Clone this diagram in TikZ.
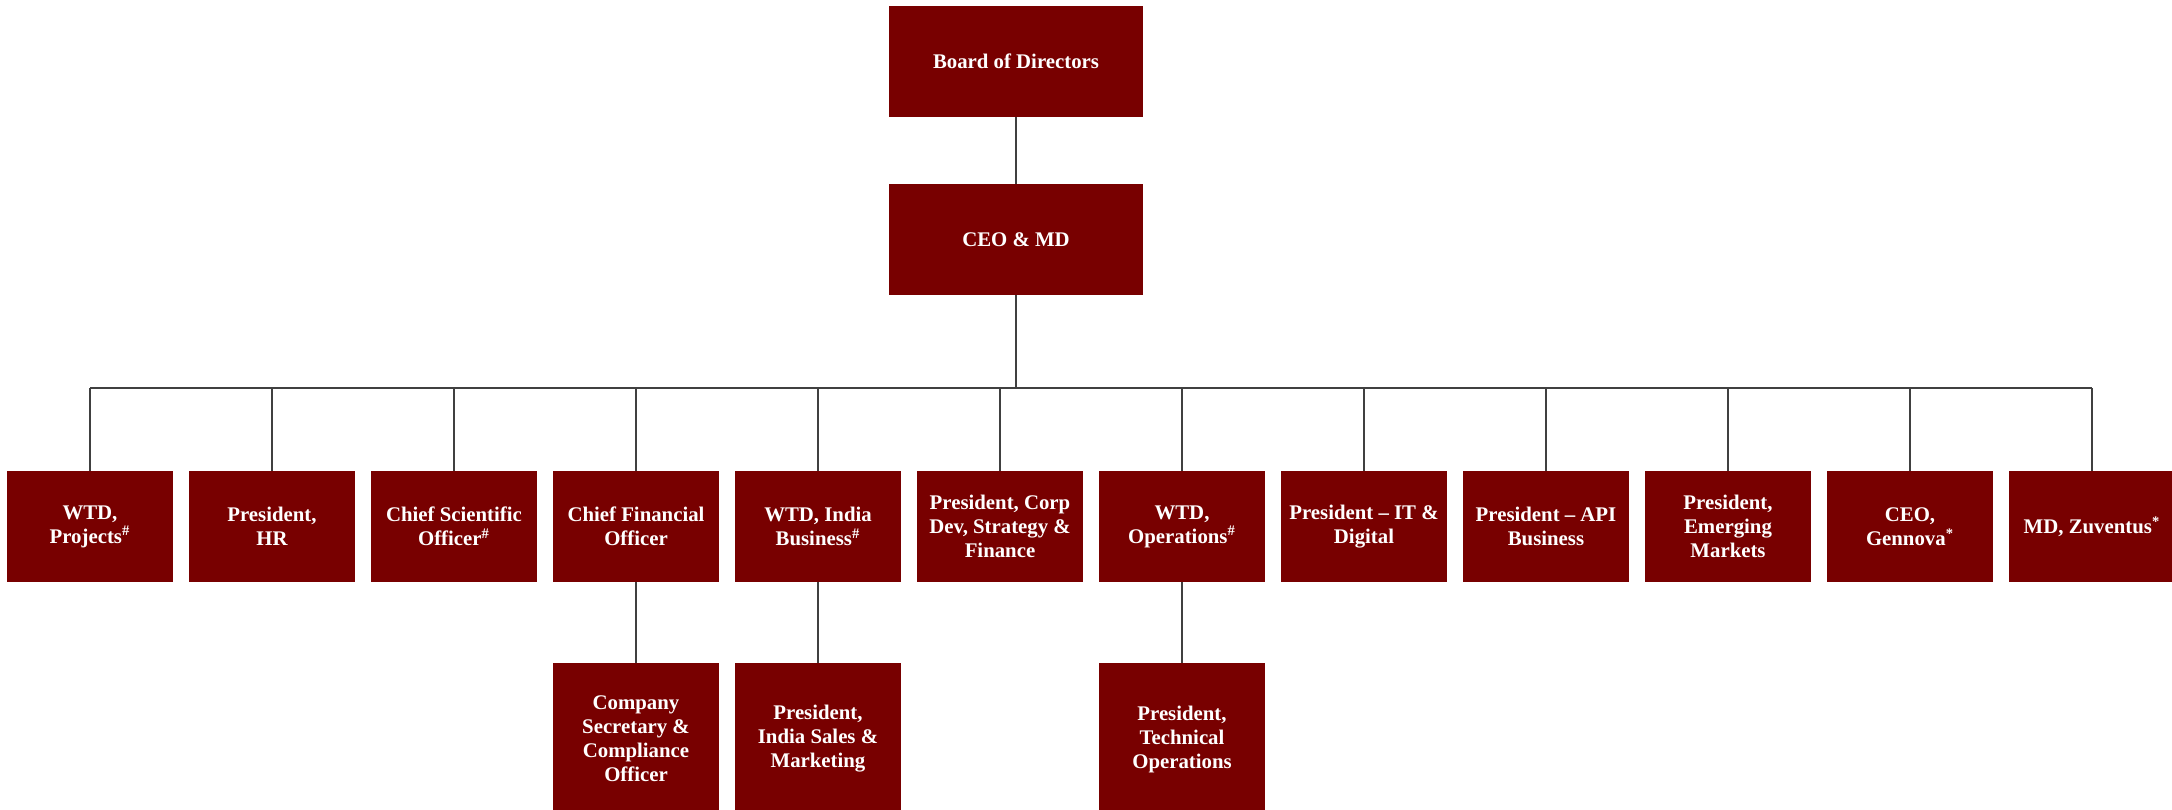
\documentclass[tikz,border=0pt]{standalone}
\usepackage{fontspec}
\setmainfont{Liberation Serif}
\definecolor{boxred}{RGB}{120,0,0}
\definecolor{linegray}{RGB}{64,64,64}
\tikzset{
  orgbox/.style={fill=boxred, text=white, font=\bfseries\fontsize{10.4}{12}\selectfont,
    align=center, inner sep=0pt, minimum width=83pt, minimum height=55.5pt},
  topbox/.style={orgbox, minimum width=127pt},
  lowbox/.style={orgbox, minimum height=76pt},
  link/.style={draw=linegray, line width=0.7pt}
}
\newcommand{\sups}[1]{\textsuperscript{#1}}
\begin{document}
\begin{tikzpicture}[x=0.5pt,y=-0.5pt]
\useasboundingbox (0,0) rectangle (2172,809);
\node[topbox] (board) at (1016,61.5) {Board of Directors};
\node[topbox] (ceo) at (1016,239.5) {CEO \& MD};
\node[orgbox] (r1) at (90,526.5) {WTD,\\Projects\sups{\#}};
\node[orgbox] (r2) at (272,526.5) {President,\\HR};
\node[orgbox] (r3) at (454,526.5) {Chief Scientific\\Officer\sups{\#}};
\node[orgbox] (r4) at (636,526.5) {Chief Financial\\Officer};
\node[orgbox] (r5) at (818,526.5) {WTD, India\\Business\sups{\#}};
\node[orgbox] (r6) at (1000,526.5) {President, Corp\\Dev, Strategy \&\\Finance};
\node[orgbox] (r7) at (1182,526.5) {WTD,\\Operations\sups{\#}};
\node[orgbox] (r8) at (1364,526.5) {President -- IT \&\\Digital};
\node[orgbox] (r9) at (1546,526.5) {President -- API\\Business};
\node[orgbox] (r10) at (1728,526.5) {President,\\Emerging\\Markets};
\node[orgbox] (r11) at (1910,526.5) {CEO,\\Gennova\sups{*}};
\node[orgbox] (r12) at (2092,526.5) {MD, Zuventus\sups{*}};
\node[lowbox] (cs) at (636,739) {Company\\Secretary \&\\Compliance\\Officer};
\node[lowbox] (ism) at (818,739) {President,\\India Sales \&\\Marketing};
\node[lowbox] (tech) at (1182,739) {President,\\Technical\\Operations};
\coordinate (busL) at (90,388);
\coordinate (busR) at (2092,388);
\draw[link] (board.south) -- (ceo.north);
\draw[link] (ceo.south) -- (ceo.south |- busL);
\draw[link] (busL) -- (busR);
\foreach \i in {1,...,12} { \draw[link] (r\i.north) -- (r\i.north |- busL); }
\draw[link] (r4.south) -- (cs.north);
\draw[link] (r5.south) -- (ism.north);
\draw[link] (r7.south) -- (tech.north);
\end{tikzpicture}
\end{document}
